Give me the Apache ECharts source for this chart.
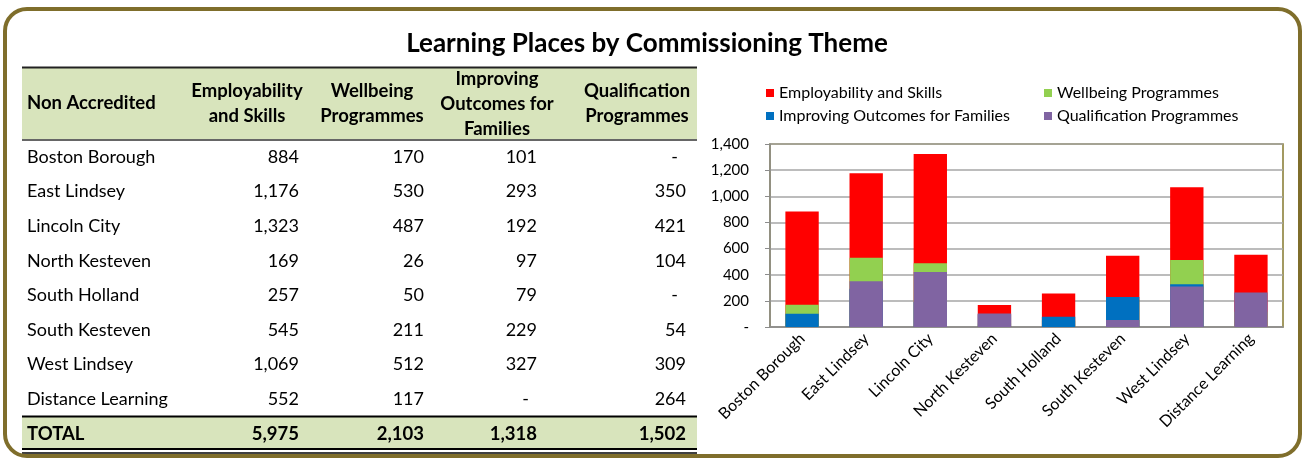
<!DOCTYPE html>
<html>
<head>
<meta charset="utf-8">
<script src="https://cdn.jsdelivr.net/npm/echarts@6/dist/echarts.min.js"></script>
<style>
  html, body { margin: 0; padding: 0; background: #fff; }
  #chart { width: 1304px; height: 460px; }
</style>
</head>
<body>
<div id="chart"></div>
<script>
const categories = ['Boston Borough', 'East Lindsey', 'Lincoln City', 'North Kesteven',
  'South Holland', 'South Kesteven', 'West Lindsey', 'Distance Learning'];
const employability = [884, 1176, 1323, 169, 257, 545, 1069, 552];
const wellbeing = [170, 530, 487, 26, 50, 211, 512, 117];
const improving = [101, 293, 192, 97, 79, 229, 327, null];
const qualification = [null, 350, 421, 104, null, 54, 309, 264];
const seriesNames = ['Employability and Skills', 'Wellbeing Programmes',
  'Improving Outcomes for Families', 'Qualification Programmes'];
const yTicks = [0, 200, 400, 600, 800, 1000, 1200, 1400];

const FONT = 'Lato, "Noto Sans", sans-serif';
const fmt = v => (v == null || v === 0) ? '-' : v.toLocaleString('en-US');
const sum = arr => arr.reduce((a, b) => a + (b || 0), 0);

// table layout
const tblLeft = 22, tblRight = 697;
const numRight = [299, 424, 537, 686];
const headCenter = [247, 372, 497, 637];
const headLines = [['Employability', 'and Skills'], ['Wellbeing', 'Programmes'],
  ['Improving', 'Outcomes for', 'Families'], ['Qualification', 'Programmes']];
const rowY0 = 157, rowStep = 34.6;
const cols = [employability, wellbeing, improving, qualification];
const BODY = '18px ' + FONT, BOLD = 'bold 18.5px ' + FONT;

const g = [];
// outer rounded frame
g.push({ type: 'rect', shape: { x: 5, y: 9, width: 1295, height: 447, r: 22 },
  style: { fill: 'none', stroke: '#7f6e2b', lineWidth: 4 }, z: 1 });
// title
g.push({ type: 'text', x: 647, y: 44, style: { text: 'Learning Places by Commissioning Theme',
  font: 'bold 26px ' + FONT, fill: '#000', align: 'center', verticalAlign: 'middle' } });
// header band
g.push({ type: 'rect', shape: { x: tblLeft, y: 68, width: tblRight - tblLeft, height: 72 },
  style: { fill: '#d8e4bc' } });
g.push({ type: 'line', shape: { x1: tblLeft, y1: 67.5, x2: tblRight, y2: 67.5 },
  style: { stroke: '#222', lineWidth: 2 } });
g.push({ type: 'line', shape: { x1: tblLeft, y1: 140, x2: tblRight, y2: 140 },
  style: { stroke: '#666', lineWidth: 2 } });
g.push({ type: 'text', x: 27, y: 103, style: { text: 'Non Accredited',
  font: BOLD, fill: '#000', verticalAlign: 'middle' } });
headLines.forEach((lines, i) => {
  const y0 = 104 - (lines.length - 1) * 12.5;
  lines.forEach((t, j) => {
    g.push({ type: 'text', x: headCenter[i], y: y0 + j * 25, style: { text: t,
      font: BOLD, fill: '#000', align: 'center', verticalAlign: 'middle' } });
  });
});
// body rows
categories.forEach((c, r) => {
  const y = rowY0 + r * rowStep;
  g.push({ type: 'text', x: 27, y: y, style: { text: c, font: BODY,
    fill: '#000', verticalAlign: 'middle' } });
  cols.forEach((arr, i) => {
    const dash = arr[r] == null;
    g.push({ type: 'text', x: dash ? numRight[i] - 8 : numRight[i], y: y, style: {
      text: fmt(arr[r]), font: BODY, fill: '#000', align: 'right', verticalAlign: 'middle' } });
  });
});
// total row
g.push({ type: 'rect', shape: { x: tblLeft, y: 417, width: tblRight - tblLeft, height: 31 },
  style: { fill: '#d8e4bc' } });
g.push({ type: 'line', shape: { x1: tblLeft, y1: 416.5, x2: tblRight, y2: 416.5 },
  style: { stroke: '#000', lineWidth: 2 } });
g.push({ type: 'line', shape: { x1: tblLeft, y1: 449, x2: tblRight, y2: 449 },
  style: { stroke: '#000', lineWidth: 2 } });
g.push({ type: 'line', shape: { x1: tblLeft, y1: 453, x2: tblRight, y2: 453 },
  style: { stroke: '#000', lineWidth: 1.5 } });
g.push({ type: 'text', x: 27, y: 434, style: { text: 'TOTAL', font: BOLD,
  fill: '#000', verticalAlign: 'middle' } });
cols.forEach((arr, i) => {
  g.push({ type: 'text', x: numRight[i], y: 434, style: { text: fmt(sum(arr)),
    font: BOLD, fill: '#000', align: 'right', verticalAlign: 'middle' } });
});

const colors = ['#ff0000', '#92d050', '#0070c0', '#8064a2'];
const data = [employability, wellbeing, improving, qualification];

const legendBase = {
  orient: 'vertical', top: 80, itemWidth: 8, itemHeight: 8, itemGap: 7, icon: 'rect',
  textStyle: { fontSize: 16, color: '#000', fontFamily: FONT }
};

const chart = echarts.init(document.getElementById('chart'), null, { renderer: 'canvas' });
chart.setOption({
  animation: false,
  backgroundColor: '#fff',
  textStyle: { fontFamily: FONT },
  graphic: { elements: g },
  legend: [
    Object.assign({ data: [seriesNames[0], seriesNames[2]], left: 761 }, legendBase),
    Object.assign({ data: [seriesNames[1], seriesNames[3]], left: 1039 }, legendBase)
  ],
  grid: { left: 770, right: 21, top: 144, bottom: 133, show: true,
    borderColor: '#857a2e', borderWidth: 1.5, backgroundColor: 'transparent' },
  xAxis: {
    type: 'category', data: categories,
    axisLine: { lineStyle: { color: '#8c8c8c', width: 1.5 } },
    axisTick: { show: false },
    axisLabel: { rotate: 45, fontSize: 16, color: '#000', margin: 9, interval: 0 }
  },
  yAxis: {
    type: 'value', min: yTicks[0], max: yTicks[yTicks.length - 1], interval: 200,
    axisLine: { show: true, lineStyle: { color: '#8c8c8c', width: 1.5 } },
    axisTick: { show: true, length: 5, lineStyle: { color: '#8c8c8c' } },
    axisLabel: { fontSize: 15, color: '#000', margin: 21, formatter: v => fmt(v) },
    splitLine: { lineStyle: { color: '#a6a6a6', width: 1.5 } }
  },
  series: data.map((d, i) => ({
    name: seriesNames[i], type: 'bar', data: d,
    barWidth: '52%', barGap: '-100%',
    itemStyle: { color: colors[i] }
  }))
});
</script>
</body>
</html>
